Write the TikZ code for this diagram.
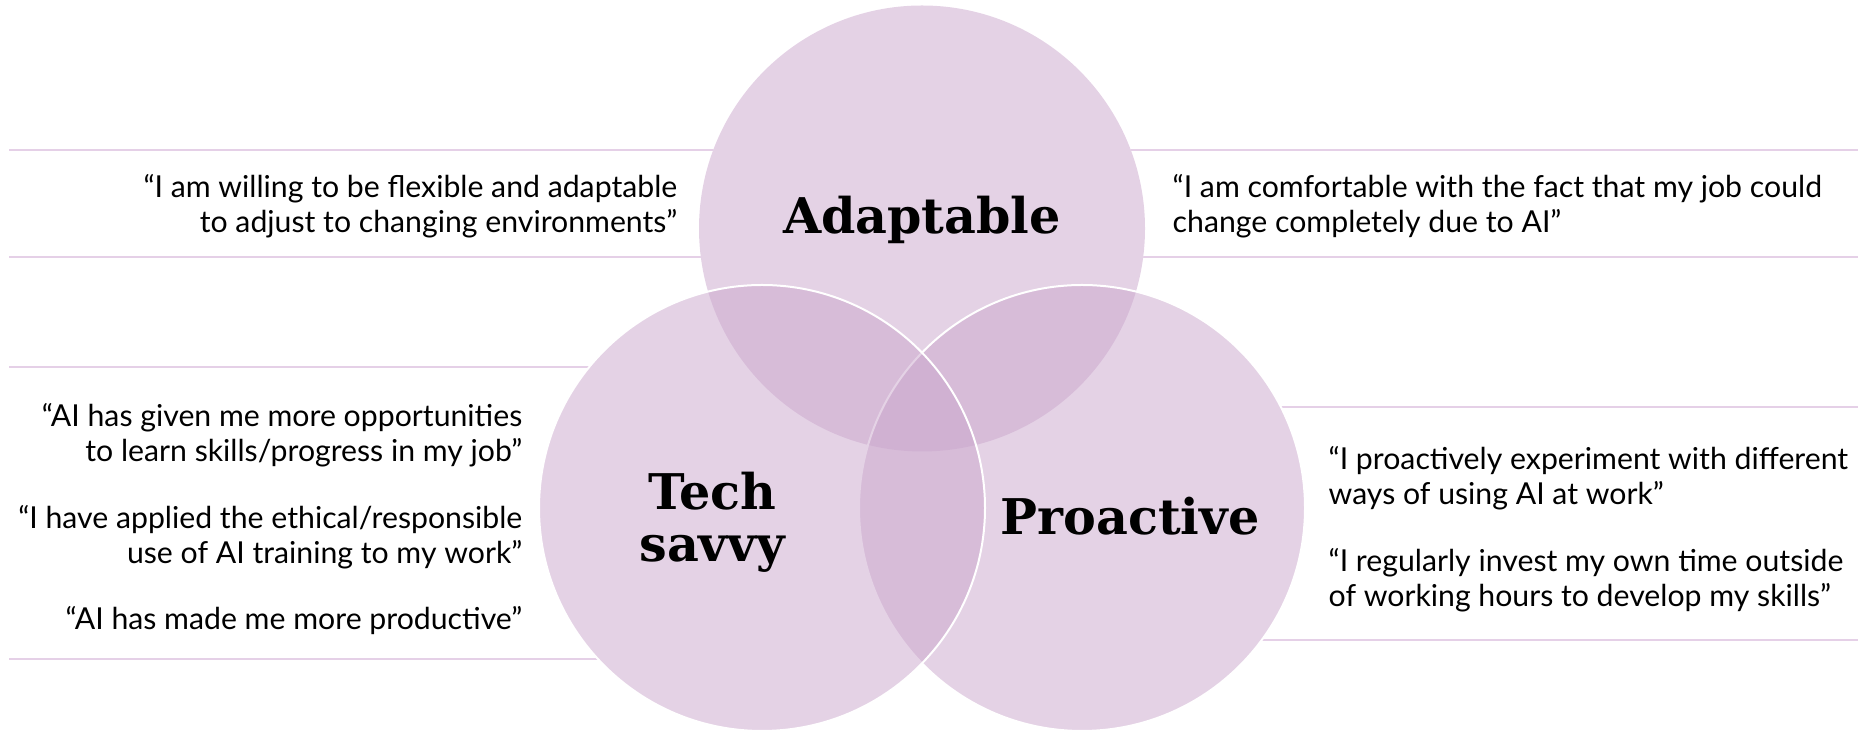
\documentclass[tikz,border=0pt]{standalone}
\usepackage{fontspec}
\usepackage{tikz}
\usetikzlibrary{positioning}
\setmainfont{Lato}
\newfontfamily\headfont{DejaVu Serif}
\definecolor{lilac}{HTML}{CBA7CD}
\definecolor{lilacrule}{HTML}{E5D0E7}

\begin{document}
\begin{tikzpicture}[x=0.1mm,y=-0.1mm,
        rule/.style={lilacrule, line width=0.22mm},
        quote/.style={inner sep=0pt, font=\fontsize{8.6}{10.2}\selectfont},
        headline/.style={inner sep=0pt, align=center, anchor=base, font=\headfont\bfseries\fontsize{14}{15}\selectfont}]
        \useasboundingbox (0,0) rectangle (1858,731);
        % Define centres
        \coordinate (A) at (922,228.5);
        \coordinate (T) at (762,508);
        \coordinate (P) at (1082,508);
        % Rules round the quotes
        \draw[rule] (9,150) -- (800,150);
        \draw[rule] (9,257) -- (800,257);
        \draw[rule] (1050,150) -- (1858,150);
        \draw[rule] (1050,257) -- (1858,257);
        \draw[rule] (9,367) -- (700,367);
        \draw[rule] (9,659) -- (700,659);
        \draw[rule] (1150,407) -- (1858,407);
        \draw[rule] (1150,640) -- (1858,640);
        % Blank out the rules under the circles
        \foreach \c in {A,T,P}
                \fill[white] (\c) circle (22.3mm);
        % Circles
        \fill[lilac, fill opacity=0.5] (A) circle (22.3mm);
        \filldraw[lilac, fill opacity=0.5, draw=white, line width=0.2mm] (P) circle (22.3mm);
        \filldraw[lilac, fill opacity=0.5, draw=white, line width=0.2mm] (T) circle (22.3mm);
        % Headings (base = last line)
        \node[headline] (adaptable) at (922,234) {Adaptable};
        \node[headline] (techsavvy) at (712,562) {Tech\\savvy};
        \node[headline] (proactive) at (1130,535) {Proactive};
        % Quotes
        \node[quote, anchor=base east, align=right] (qflex) at (678,233)
                {“I am willing to be flexible and adaptable\\to adjust to changing environments”};
        \node[quote, anchor=base west, align=left] (qchange) at (1172,233)
                {“I am comfortable with the fact that my job could\\change completely due to AI”};
        \node[quote, anchor=base east, align=right] (qlearn) at (523,462)
                {“AI has given me more opportunities\\to learn skills/progress in my job”};
        \node[quote, anchor=base east, align=right] (qethics) at (523,564)
                {“I have applied the ethical/responsible\\use of AI training to my work”};
        \node[quote, anchor=base east, align=right] (qprod) at (523,630)
                {“AI has made me more productive”};
        \node[quote, anchor=base west, align=left] (qexperiment) at (1328,505)
                {“I proactively experiment with different\\ways of using AI at work”};
        \node[quote, anchor=base west, align=left] (qinvest) at (1328,607)
                {“I regularly invest my own time outside\\of working hours to develop my skills”};
\end{tikzpicture}
\end{document}
